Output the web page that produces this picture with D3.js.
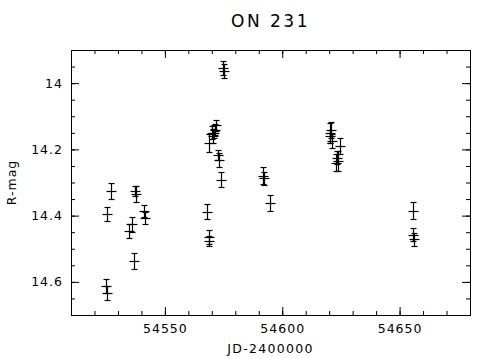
<!DOCTYPE html>
<html><head><meta charset="utf-8">
<script src="https://cdn.jsdelivr.net/npm/d3@7"></script>
<style>
body{margin:0;background:#fff;}
svg{display:block;}
text{font-family:"DejaVu Sans",sans-serif;fill:#000;}
</style></head>
<body>
<svg id="chart" width="489" height="359"></svg>
<script>
const jd = [54525.3,54524.8,54525.2,54527.0,54537.3,54537.6,54541.2,54541.4,54535.9,54534.9,54537.0,
  54574.9,54575.2,54568.9,54570.0,54570.7,54571.3,54571.8,54571.0,54572.8,54573.0,54573.8,54567.8,54568.8,54569.0,
  54591.9,54592.3,54594.8,
  54620.7,54620.4,54621.0,54620.2,54624.6,54623.3,54622.9,54623.7,
  54655.7,54655.9,54656.1];
const mag = [14.395,14.612,14.634,14.326,14.326,14.335,14.386,14.408,14.426,14.447,14.537,
  13.954,13.963,14.181,14.150,14.160,14.140,14.127,14.152,14.217,14.232,14.291,14.388,14.464,14.477,
  14.279,14.287,14.361,
  14.142,14.160,14.175,14.150,14.190,14.225,14.240,14.235,
  14.385,14.458,14.472];
const err = [0.021,0.021,0.022,0.023,0.016,0.024,0.018,0.018,0.023,0.021,0.023,
  0.022,0.022,0.027,0.020,0.022,0.018,0.017,0.015,0.015,0.020,0.024,0.023,0.022,0.015,
  0.025,0.020,0.024,
  0.025,0.020,0.022,0.030,0.025,0.020,0.025,0.030,
  0.025,0.020,0.020];
const xMajor = [54550,54600,54650];
const xMinor = d3.range(54520,54680,10);
const yMajor = [14,14.2,14.4,14.6];
const yMinor = d3.range(13.95,14.7,0.05);
const title = "ON 231", xLabel = "JD-2400000", yLabel = "R-mag";

const svg = d3.select("#chart");
const L=71,R=470,T=50,B=315;
const x = d3.scaleLinear().domain([54510,54680]).range([L,R]);
const y = d3.scaleLinear().domain([13.9,14.7]).range([T,B]);

function ticks(axisFn, scale, vals, size, fmt, pad, transform){
  const g = svg.append("g").attr("transform",transform)
    .call(axisFn(scale).tickValues(vals).tickSize(size).tickSizeOuter(0).tickPadding(pad).tickFormat(fmt));
  g.select(".domain").remove();
  g.selectAll("line").attr("stroke","#000").attr("stroke-width",1);
  g.selectAll("text").style("font-size","12.5px").style("letter-spacing","1px").attr("font-family",null);
  return g;
}
const none = ()=>"";
ticks(d3.axisBottom,x,xMinor,-4,none,9,`translate(0,${B})`);
ticks(d3.axisBottom,x,xMajor,-8,d=>d,9,`translate(0,${B})`);
ticks(d3.axisTop,x,xMinor,-4,none,0,`translate(0,${T})`);
ticks(d3.axisTop,x,xMajor,-8,none,0,`translate(0,${T})`);
ticks(d3.axisLeft,y,yMinor,-4,none,8,`translate(${L},0)`);
ticks(d3.axisLeft,y,yMajor,-8,d=>d3.format("")(d),8,`translate(${L},0)`);
ticks(d3.axisRight,y,yMinor,-4,none,0,`translate(${R},0)`);
ticks(d3.axisRight,y,yMajor,-8,none,0,`translate(${R},0)`);

svg.append("rect").attr("x",L+0.5).attr("y",T+0.5).attr("width",R-L).attr("height",B-T)
  .attr("fill","none").attr("stroke","#000").attr("stroke-width",1);

const pts = jd.map((d,i)=>({x:d,m:mag[i],e:err[i]}));
const eg = svg.append("g").attr("stroke","#000").attr("stroke-width",1.2);
const snap = v => Math.round(v)+0.5;
pts.forEach(p=>{
  const cx=snap(x(p.x)), cy=snap(y(p.m)), y1=snap(y(p.m-p.e)), y2=snap(y(p.m+p.e));
  eg.append("line").attr("x1",cx).attr("x2",cx).attr("y1",y1).attr("y2",y2);
  eg.append("line").attr("x1",cx-3).attr("x2",cx+3).attr("y1",y1).attr("y2",y1);
  eg.append("line").attr("x1",cx-3).attr("x2",cx+3).attr("y1",y2).attr("y2",y2);
  eg.append("line").attr("x1",cx-5).attr("x2",cx+5).attr("y1",cy).attr("y2",cy);
});

svg.append("text").attr("x",(L+R)/2).attr("y",27).attr("text-anchor","middle")
  .style("font-size","17px").style("letter-spacing","2.5px").text(title);
svg.append("text").attr("x",(L+R)/2).attr("y",353).attr("text-anchor","middle")
  .style("font-size","12.5px").style("letter-spacing","1.3px").text(xLabel);
svg.append("text").attr("transform",`translate(16,${(T+B)/2}) rotate(-90)`).attr("text-anchor","middle")
  .style("font-size","12.5px").style("letter-spacing","1px").text(yLabel);
</script>
</body></html>
